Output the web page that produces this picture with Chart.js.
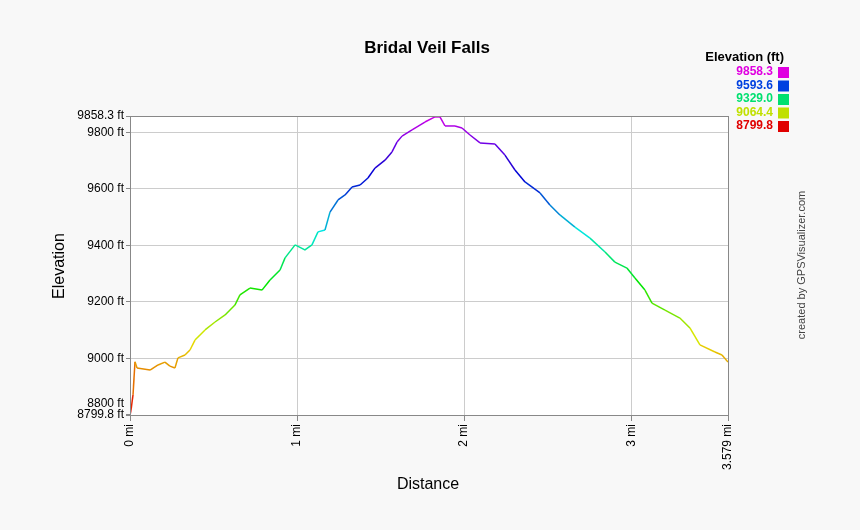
<!DOCTYPE html>
<html><head><meta charset="utf-8">
<script src="https://cdn.jsdelivr.net/npm/chart.js@4"></script>
<style>html,body{margin:0;background:#f8f8f8}#wrap{width:860px;height:530px}</style>
</head><body><div id="wrap"><canvas id="c"></canvas></div>
<script>
// distance (mi) and elevation (ft)
const distMi = [0,0.006,0.018,0.03,0.042,0.12,0.168,0.209,0.239,0.269,0.287,0.329,0.359,0.389,0.449,0.509,0.569,0.628,0.658,0.718,0.79,0.838,0.898,0.928,0.988,1.047,1.089,1.125,1.167,1.197,1.245,1.287,1.329,1.377,1.424,1.466,1.526,1.568,1.598,1.628,1.688,1.765,1.825,1.855,1.885,1.945,1.987,2.035,2.095,2.184,2.244,2.304,2.364,2.454,2.513,2.573,2.663,2.753,2.843,2.902,2.974,3.022,3.082,3.124,3.202,3.291,3.351,3.411,3.501,3.543,3.579];
const elevFt = [8799.8,8817,8871,8988,8966,8959,8977,8987,8973,8966,9002,9012,9030,9065,9101,9129,9154,9189,9225,9249,9242,9278,9313,9356,9402,9384,9402,9448,9455,9518,9561,9579,9607,9614,9639,9674,9702,9731,9766,9787,9809,9837,9855,9855,9823,9823,9816,9791,9763,9759,9720,9667,9625,9586,9543,9508,9465,9426,9377,9341,9320,9285,9242,9196,9171,9143,9108,9048,9023,9012,8987];
const xTicks = [0,1,2,3,3.579];
const yTicks = [8799.8,8800,9000,9200,9400,9600,9800,9858.3];
const legendVals = ['9858.3','9593.6','9329.0','9064.4','8799.8'];
const legendCols = ['#e000e0','#0040e0','#00e070','#c0e000','#e00000'];

const yMin = 8799.8, yMax = 9858.3;
function elevColor(v) {
  const t = Math.max(0, Math.min(1, (v - yMin) / (yMax - yMin))) * 4;
  const hues = [0, 60, 140, 225, 295];
  const i = Math.min(3, Math.floor(t));
  const h = hues[i] + (hues[i+1] - hues[i]) * (t - i);
  return `hsl(${h},100%,${h > 180 && h < 260 ? 42 : 45}%)`;
}

const extras = {
  id: 'extras',
  beforeDraw(ch) {
    const { ctx, chartArea: a } = ch;
    ctx.save();
    ctx.fillStyle = '#fff';
    ctx.fillRect(a.left, a.top, a.right - a.left, a.bottom - a.top);
    ctx.restore();
  },
  afterDraw(ch) {
    const { ctx, chartArea: a } = ch;
    ctx.save();
    ctx.strokeStyle = '#888'; ctx.lineWidth = 1;
    ctx.strokeRect(a.left + 0.5, a.top + 0.5, a.right - a.left, a.bottom - a.top);
    ctx.fillStyle = '#000';
    ctx.font = 'bold 17px "Liberation Sans", Arial';
    ctx.textAlign = 'center'; ctx.textBaseline = 'middle';
    ctx.fillText('Bridal Veil Falls', 427, 48);
    ctx.font = '16px "Liberation Sans", Arial';
    ctx.fillText('Distance', 428, 485);
    ctx.font = 'bold 13px "Liberation Sans", Arial';
    ctx.textAlign = 'right';
    ctx.fillText('Elevation (ft)', 784, 57);
    ctx.font = 'bold 12px "Liberation Sans", Arial';
    legendVals.forEach((v, i) => {
      const y = 72 + i * 13.5;
      ctx.fillStyle = legendCols[i];
      ctx.fillText(v, 773, y);
      ctx.fillRect(778, y - 5, 11, 11);
    });
    ctx.save();
    ctx.translate(60, 266); ctx.rotate(-Math.PI / 2);
    ctx.fillStyle = '#000'; ctx.textAlign = 'center';
    ctx.font = '16px "Liberation Sans", Arial';
    ctx.fillText('Elevation', 0, 0);
    ctx.restore();
    ctx.translate(802, 265); ctx.rotate(-Math.PI / 2);
    ctx.fillStyle = '#444'; ctx.textAlign = 'center';
    ctx.font = '11px "Liberation Sans", Arial';
    ctx.fillText('created by GPSVisualizer.com', 0, 0);
    ctx.restore();
  }
};

new Chart(document.getElementById('c'), {
  type: 'line',
  data: {
    datasets: [{
      data: distMi.map((x, i) => ({ x, y: elevFt[i] })),
      borderWidth: 1.5,
      pointRadius: 0,
      tension: 0,
      segment: { borderColor: s => elevColor((s.p0.parsed.y + s.p1.parsed.y) / 2) }
    }]
  },
  options: {
    responsive: true, maintainAspectRatio: false, animation: false,
    layout: { padding: { top: 116, right: 132, left: 0, bottom: 0 } },
    plugins: { legend: { display: false }, tooltip: { enabled: false } },
    scales: {
      x: {
        type: 'linear', min: 0, max: 3.579,
        afterBuildTicks: s => { s.ticks = xTicks.map(v => ({ value: v })); },
        afterFit: s => { s.height = 115; },
        grid: { color: c => (c.tick && (c.tick.value === 1 || c.tick.value === 2 || c.tick.value === 3)) ? '#ccc' : 'rgba(0,0,0,0)', tickLength: 6, tickColor: '#888' },
        border: { display: false },
        ticks: { autoSkip: false, color: '#000', maxRotation: 90, minRotation: 90, font: { size: 12, family: '"Liberation Sans", Arial' },
          callback: v => v + ' mi' }
      },
      y: {
        min: yMin, max: yMax,
        afterBuildTicks: s => { s.ticks = yTicks.map(v => ({ value: v })); },
        afterFit: s => { s.width = 130; },
        grid: { color: c => (c.tick && c.tick.value >= 9000 && c.tick.value <= 9800) ? '#ccc' : 'rgba(0,0,0,0)', tickLength: 4, tickColor: '#888' },
        border: { display: false },
        ticks: { autoSkip: false, color: '#000', padding: 2, font: { size: 12, lineHeight: 1.85, family: '"Liberation Sans", Arial' },
          callback: v => v === 8800 ? ['8800 ft', ''] : v + ' ft' }
      }
    }
  },
  plugins: [extras]
});
</script></body></html>
